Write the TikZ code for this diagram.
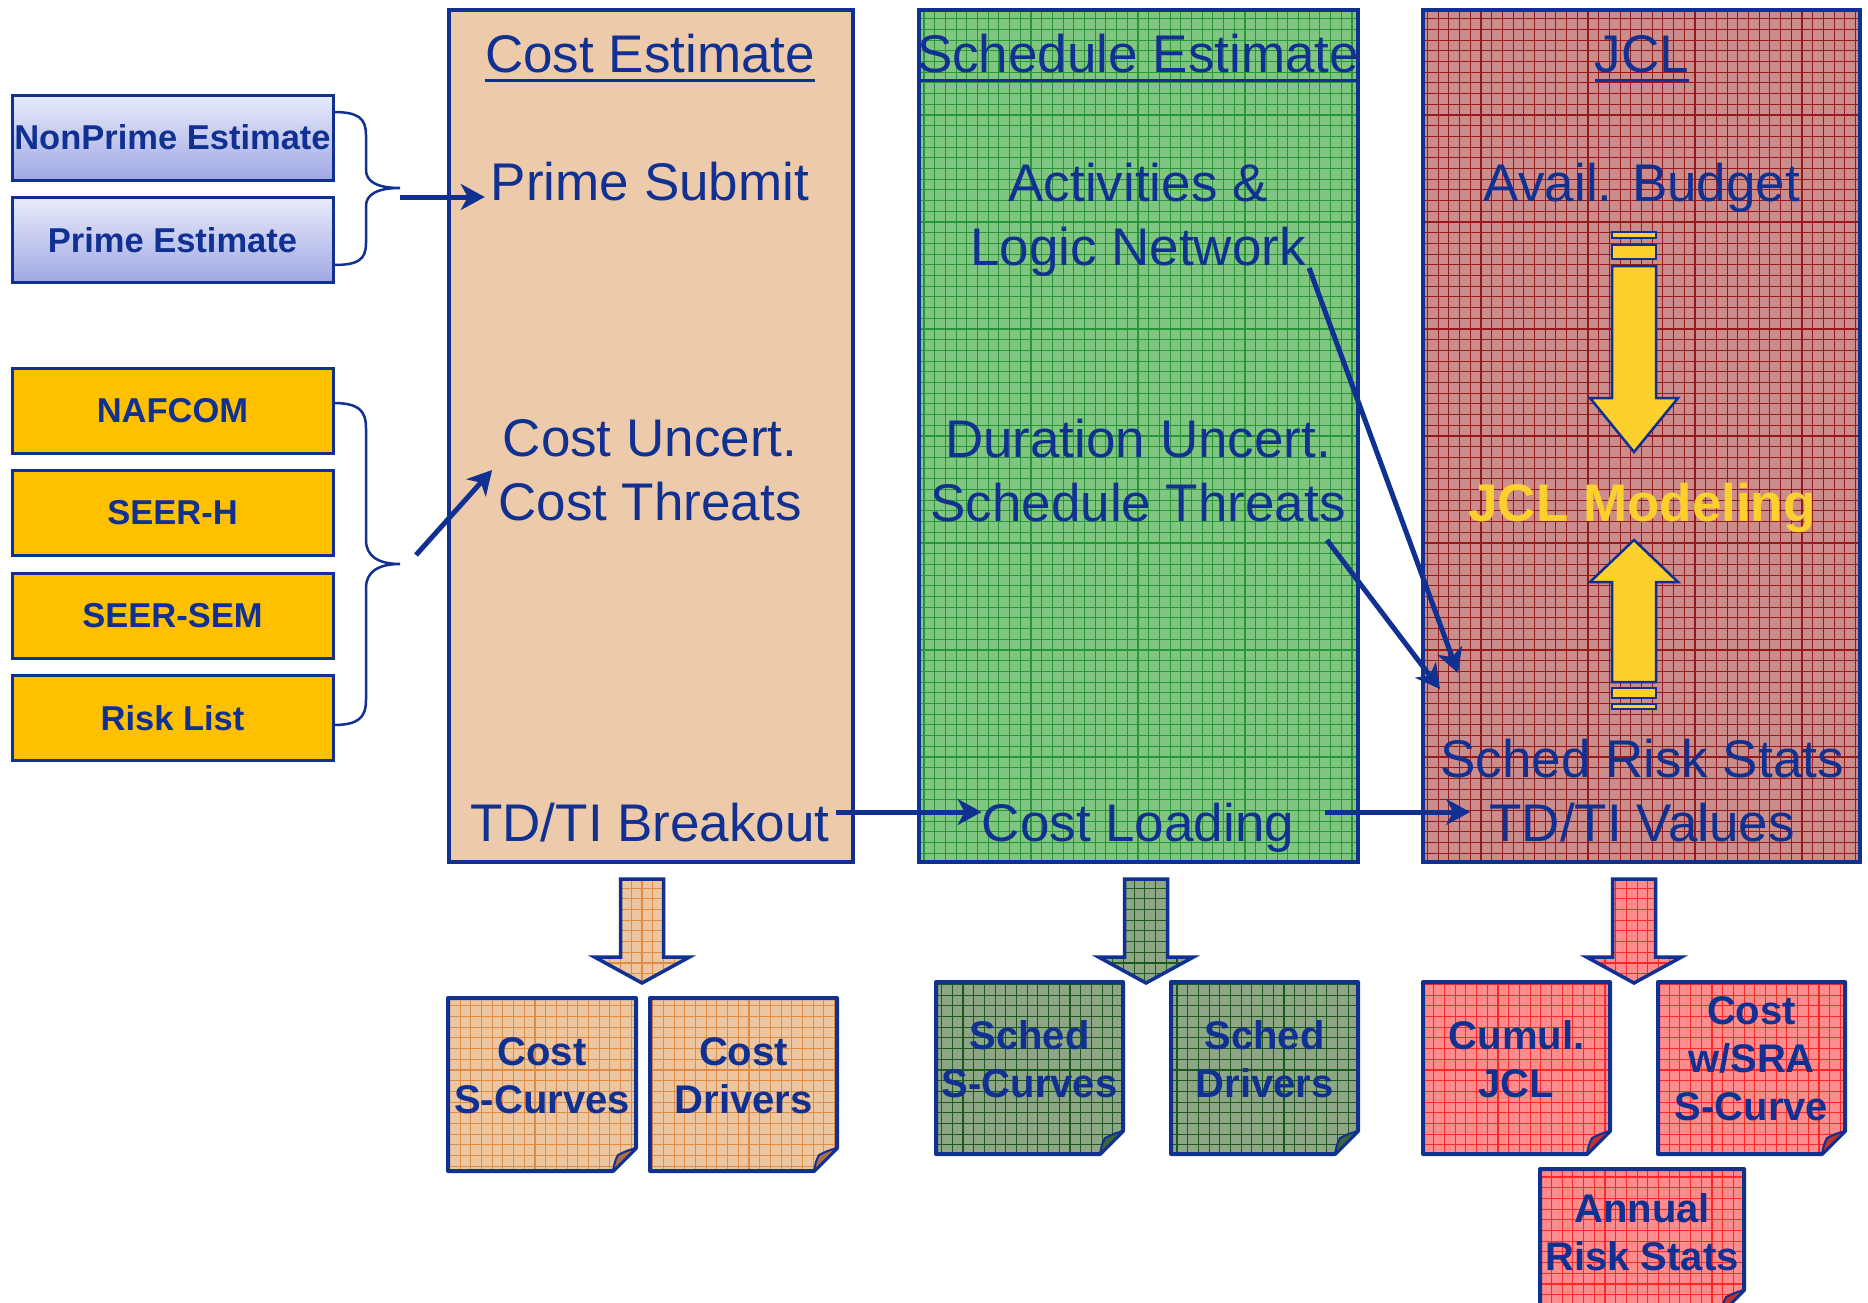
\documentclass[tikz,border=0pt]{standalone}
\usepackage{fontspec}
\setmainfont{Liberation Sans}
\usetikzlibrary{arrows.meta,calc}

\definecolor{ink}{RGB}{16,48,146}
\definecolor{tancol}{RGB}{237,203,170}
\definecolor{grnbase}{RGB}{128,198,128}
\definecolor{grnline}{RGB}{40,150,58}
\definecolor{redbase}{RGB}{203,140,140}
\definecolor{redline}{RGB}{150,26,26}
\definecolor{tannote}{RGB}{236,198,160}
\definecolor{tanline}{RGB}{222,140,70}
\definecolor{tancurl}{RGB}{170,110,70}
\definecolor{sgnote}{RGB}{140,166,134}
\definecolor{sgline}{RGB}{28,90,28}
\definecolor{sgcurl}{RGB}{60,100,60}
\definecolor{rnote}{RGB}{255,140,140}
\definecolor{rline}{RGB}{255,40,40}
\definecolor{rcurl}{RGB}{190,50,50}
\definecolor{gold}{RGB}{255,192,0}
\definecolor{jclyel}{RGB}{253,208,46}
\definecolor{lavtop}{RGB}{232,235,250}
\definecolor{lavbot}{RGB}{160,168,228}

% folded-corner output sheet: name, x1, y1, x2, y2, base, grid, curl, text
\newcommand\foldnote[9]{%
  \path[gridfill={#6}{#7}, draw=ink, line width=4pt, line join=round]
    (#2,#3) -- (#4,#3) -- (#4,#5-23) -- (#4-23,#5) -- (#2,#5) -- cycle;
  \path[fill=#8, draw=ink, line width=2pt, line join=round]
    (#4-23,#5) .. controls (#4-21,#5-10) .. (#4-18,#5-16)
    .. controls (#4-10,#5-20) .. (#4,#5-23) -- cycle;
  \node[notetext] (#1) at ({(#2+#4)/2},{(#3+#5)/2-9}) {#9};
}

% broad downward arrow under a column: centre x, base, grid
\newcommand\blockarrow[3]{%
  \path[gridfill={#2}{#3}, draw=ink, line width=3.5pt, line join=miter]
    (#1-21.5,879) -- (#1+21.5,879) -- (#1+21.5,957) -- (#1+47.5,957)
    -- (#1,983) -- (#1-47.5,957) -- (#1-21.5,957) -- cycle;
}

\tikzset{
  gridfill/.style 2 args={fill=#1,
    path picture={\draw[draw=#2, line width=1.1pt, step=10.7pt]
      (path picture bounding box.south west) grid (path picture bounding box.north east);}},
  column/.style={draw=ink, line width=4pt, minimum height=852pt, inner sep=0pt},
  big/.style={font=\fontsize{53}{64}\selectfont, text=ink, inner sep=6pt, align=center},
  notetext/.style={font=\fontsize{40}{48}\selectfont\bfseries, text=ink, inner sep=2pt, align=center},
  lbox/.style={draw=ink, line width=3pt, minimum width=321pt, minimum height=85pt,
    inner sep=2pt, font=\fontsize{34.5}{40}\selectfont\bfseries, text=ink},
  lav/.style={lbox, top color=lavtop, bottom color=lavbot},
  goldbox/.style={lbox, fill=gold},
  brace/.style={draw=ink, line width=2.5pt},
  conn/.style={draw=ink, line width=5pt, -{Stealth[length=24pt, width=26pt, inset=7pt]}},
  yel/.style={fill=jclyel, draw=ink, line width=2.5pt, line join=miter},
  uline/.style={draw=ink, line width=3pt}
}

\begin{document}
\begin{tikzpicture}[x=1pt, y=-1pt]
\path[use as bounding box] (0,0) rectangle (1868,1302);
\clip (0,0) rectangle (1868,1302);
\fill[white] (0,0) rectangle (1868,1302);

% three process columns
\node[column, fill=tancol, minimum width=404pt] (costcol) at (650.5,436) {};
\node[column, gridfill={grnbase}{grnline}, minimum width=439pt] (schedcol) at (1138,436) {};
\node[column, gridfill={redbase}{redline}, minimum width=437pt] (jclcol) at (1641.5,436) {};

% column titles
\node[big, anchor=base] (t1) at (650,72) {Cost Estimate};
\node[big, anchor=base] (t2) at (1138,72) {Schedule Estimate};
\node[big, anchor=base] (t3) at (1642,72) {JCL};
\foreach \t in {t1,t2,t3}
  \draw[uline] ($(\t.base west)+(6,8)$) -- ($(\t.base east)+(-6,8)$);

% cost column
\node[big, anchor=base] (ps) at (650,200) {Prime Submit};
\node[big] (cu) at (650,470) {Cost Uncert.\\Cost Threats};
\node[big, anchor=base] (tdb) at (650,841) {TD/TI Breakout};

% schedule column
\node[big, anchor=base] (act) at (1138,201) {Activities \&};
\node[big, anchor=base] (ln) at (1138,265) {Logic Network};
\node[big, anchor=base] (du) at (1138,457) {Duration Uncert.};
\node[big, anchor=base] (st) at (1138,521) {Schedule Threats};
\node[big, anchor=base] (cl) at (1138,841) {Cost Loading};

% JCL column
\node[big, anchor=base] (ab) at (1642,201) {Avail. Budget};
\node[big, anchor=base, text=jclyel, font=\fontsize{53}{64}\selectfont\bfseries] (jm) at (1642,521) {JCL Modeling};
\node[big, anchor=base] (srs) at (1642,777) {Sched Risk Stats};
\node[big, anchor=base] (tdv) at (1642,841) {TD/TI Values};

% converging yellow arrows
\path[yel] (1612,232) rectangle (1656,238);
\path[yel] (1612,245) rectangle (1656,259);
\path[yel] (1612,266) -- (1656,266) -- (1656,398) -- (1678,398) -- (1634,452)
  -- (1590,398) -- (1612,398) -- cycle;
\path[yel] (1634,540) -- (1678,582) -- (1656,582) -- (1656,682) -- (1612,682)
  -- (1612,582) -- (1590,582) -- cycle;
\path[yel] (1612,688) rectangle (1656,698);
\path[yel] (1612,704) rectangle (1656,709);

% input boxes
\node[lav] (np) at (172.5,137.5) {NonPrime Estimate};
\node[lav] (pe) at (172.5,240) {Prime Estimate};
\node[goldbox] (naf) at (172.5,410.5) {NAFCOM};
\node[goldbox] (seh) at (172.5,513) {SEER-H};
\node[goldbox] (ses) at (172.5,615.5) {SEER-SEM};
\node[goldbox] (rl) at (172.5,718) {Risk List};

% braces grouping the inputs
\draw[brace] (333,112) .. controls (358,112) and (366,118) .. (366,135) -- (366,170)
  .. controls (366,182) and (378,188) .. (400,188)
  .. controls (378,188) and (366,194) .. (366,206) -- (366,243)
  .. controls (366,260) and (358,265) .. (333,265);
\draw[brace] (333,403) .. controls (358,403) and (366,410) .. (366,428) -- (366,540)
  .. controls (366,556) and (378,564) .. (400,564)
  .. controls (378,564) and (366,572) .. (366,588) -- (366,700)
  .. controls (366,718) and (358,725) .. (333,725);

% connectors
\coordinate (bt1) at (400,197);
\coordinate (bt2) at (416,555);
\coordinate (jin1) at (1458,673);
\coordinate (jin2) at (1440,689);
\draw[conn] (bt1) -- (bt1 -| ps.west);
\draw[conn] (bt2) -- (cu.west);
\draw[conn] ($(ln.base east)+(-3,3)$) -- (jin1);
\draw[conn] ($(st.base east)+(-25,19)$) -- (jin2);
\draw[conn] ($(tdb.base east)+(0,-29)$) -- ($(cl.base west)+(6,-29)$);
\draw[conn] ($(cl.base east)+(25,-29)$) -- ($(tdv.base west)+(-13,-29)$);

% outputs
\blockarrow{642}{tannote}{tanline}
\blockarrow{1146}{sgnote}{sgline}
\blockarrow{1634}{rnote}{rline}

\foldnote{cs}{448}{998}{636}{1171}{tannote}{tanline}{tancurl}{Cost\\S-Curves}
\foldnote{cd}{650}{998}{837}{1171}{tannote}{tanline}{tancurl}{Cost\\Drivers}
\foldnote{ss}{936}{982}{1123}{1154}{sgnote}{sgline}{sgcurl}{Sched\\S-Curves}
\foldnote{sd}{1171}{982}{1358}{1154}{sgnote}{sgline}{sgcurl}{Sched\\Drivers}
\foldnote{cj}{1423}{982}{1610}{1154}{rnote}{rline}{rcurl}{Cumul.\\JCL}
\foldnote{cw}{1658}{982}{1845}{1154}{rnote}{rline}{rcurl}{Cost\\w/SRA\\S-Curve}
\foldnote{ar}{1540}{1169}{1744}{1313}{rnote}{rline}{rcurl}{Annual\\Risk Stats}
\end{tikzpicture}
\end{document}
